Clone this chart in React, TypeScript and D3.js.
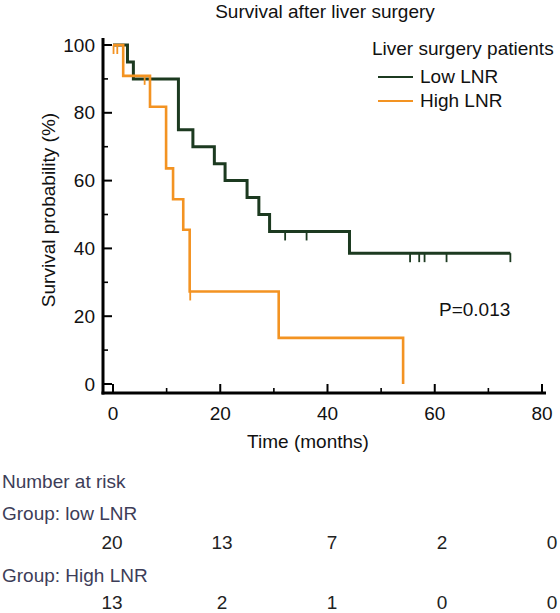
import React from "react";
import * as d3 from "d3";

const title = "Survival after liver surgery";
const legendTitle = "Liver surgery patients";
const seriesNames = ["Low LNR", "High LNR"];
const seriesColors = ["#1c3a20", "#f39322"];

// Kaplan-Meier steps: [time (months), survival (%)]
const lowSteps: [number, number][] = [
  [0, 100], [2.7, 95], [3.8, 90], [12.2, 75], [14.9, 70], [18.9, 65],
  [20.9, 60], [25, 55], [27.2, 50], [29.2, 45], [44.1, 38.6],
];
const lowEnd = 74.1;
const lowCensors = [32.1, 36.1, 55.4, 57.1, 58.1, 62.2, 74.1];

const highSteps: [number, number][] = [
  [0, 100], [1.9, 90.9], [6.9, 81.8], [9.9, 63.6], [11.2, 54.5],
  [13.1, 45.5], [14.3, 27.3], [30.9, 13.6], [54.1, 0],
];
const highEnd = 54.1;
const highCensors = [0.1, 0.8, 5.9, 14.4];

const xTicks = [0, 20, 40, 60, 80];
const xMinor = [10, 30, 50, 70];
const yTicks = [0, 20, 40, 60, 80, 100];
const yMinor = [10, 30, 50, 70, 90];

const riskTimes = [0, 20, 40, 60, 80];
const riskLow = [20, 13, 7, 2, 0];
const riskHigh = [13, 2, 1, 0, 0];
const pValue = "P=0.013";

const FONT = "'Liberation Sans', Arial, Helvetica, sans-serif";
const FS = 19;

function survAt(steps: [number, number][], t: number) {
  let s = steps[0][1];
  for (const [tt, v] of steps) if (tt <= t) s = v;
  return s;
}

export default function App() {
  const x = d3.scaleLinear().domain([0, 80]).range([113, 542]);
  const y = d3.scaleLinear().domain([0, 100]).range([384, 45]);
  const riskX = d3.scaleLinear().domain([0, 80]).range([112, 552]);
  const axisX = 103;
  const axisY = 393;

  const line = d3
    .line<[number, number]>()
    .x((d) => x(d[0]))
    .y((d) => y(d[1]))
    .curve(d3.curveStepAfter);

  const series = [
    { steps: lowSteps, end: lowEnd, censors: lowCensors, color: seriesColors[0], w: 3 },
    { steps: highSteps, end: highEnd, censors: highCensors, color: seriesColors[1], w: 2.6 },
  ];

  return (
    <svg
      width={560}
      height={613}
      style={{ position: "absolute", left: 0, top: 0, background: "#fff" }}
      fontFamily={FONT}
    >
      <text x={325} y={18} textAnchor="middle" fontSize={FS} fill="#111">
        {title}
      </text>

      {/* curves */}
      {series.map((s, i) => {
        const pts: [number, number][] = [...s.steps];
        const last = s.steps[s.steps.length - 1];
        if (last[0] < s.end) pts.push([s.end, last[1]]);
        return (
          <g key={i}>
            <path d={line(pts) || ""} fill="none" stroke={s.color} strokeWidth={s.w} strokeLinejoin="miter" />
            {s.censors.map((c, j) => (
              <line
                key={j}
                x1={x(c)}
                x2={x(c)}
                y1={y(survAt(s.steps, c))}
                y2={y(survAt(s.steps, c)) + 9}
                stroke={s.color}
                strokeWidth={1.8}
              />
            ))}
          </g>
        );
      })}

      {/* axes */}
      <line x1={axisX} x2={axisX} y1={38} y2={axisY + 1.5} stroke="#000" strokeWidth={3} />
      <line x1={axisX - 1.5} x2={546} y1={axisY} y2={axisY} stroke="#000" strokeWidth={3} />
      {yTicks.map((t) => (
        <g key={"y" + t}>
          <line x1={axisX} x2={axisX + 9} y1={y(t)} y2={y(t)} stroke="#000" strokeWidth={2} />
          <text x={95} y={y(t)} dy="0.35em" textAnchor="end" fontSize={FS} fill="#111">
            {t}
          </text>
        </g>
      ))}
      {yMinor.map((t) => (
        <line key={"ym" + t} x1={axisX} x2={axisX + 5} y1={y(t)} y2={y(t)} stroke="#000" strokeWidth={1.6} />
      ))}
      {xTicks.map((t) => (
        <g key={"x" + t}>
          <line x1={x(t)} x2={x(t)} y1={axisY} y2={axisY - 9} stroke="#000" strokeWidth={2} />
          <text x={x(t)} y={420} textAnchor="middle" fontSize={FS} fill="#111">
            {t}
          </text>
        </g>
      ))}
      {xMinor.map((t) => (
        <line key={"xm" + t} x1={x(t)} x2={x(t)} y1={axisY} y2={axisY - 5} stroke="#000" strokeWidth={1.6} />
      ))}

      <text x={308} y={448} textAnchor="middle" fontSize={FS} fill="#111">
        Time (months)
      </text>
      <text transform="translate(55,210) rotate(-90)" textAnchor="middle" fontSize={FS} fill="#111">
        Survival probability (%)
      </text>

      {/* legend */}
      <text x={372} y={55} fontSize={FS} fill="#111">
        {legendTitle}
      </text>
      {seriesNames.map((n, i) => (
        <g key={n}>
          <line x1={378} x2={413} y1={77 + i * 24} y2={77 + i * 24} stroke={seriesColors[i]} strokeWidth={2} />
          <text x={420} y={83 + i * 24} fontSize={FS} fill="#111">
            {n}
          </text>
        </g>
      ))}

      <text x={439} y={316} fontSize={FS} fill="#111">
        {pValue}
      </text>

      {/* number at risk */}
      <text x={2} y={488} fontSize={FS} fill="#3d3d58">Number at risk</text>
      <text x={2} y={520} fontSize={FS} fill="#3d3d58">Group: low LNR</text>
      {riskTimes.map((t, i) => (
        <text key={"rl" + t} x={riskX(t)} y={549} textAnchor="middle" fontSize={FS} fill="#222">
          {riskLow[i]}
        </text>
      ))}
      <text x={2} y={582} fontSize={FS} fill="#3d3d58">Group: High LNR</text>
      {riskTimes.map((t, i) => (
        <text key={"rh" + t} x={riskX(t)} y={609} textAnchor="middle" fontSize={FS} fill="#222">
          {riskHigh[i]}
        </text>
      ))}
    </svg>
  );
}
